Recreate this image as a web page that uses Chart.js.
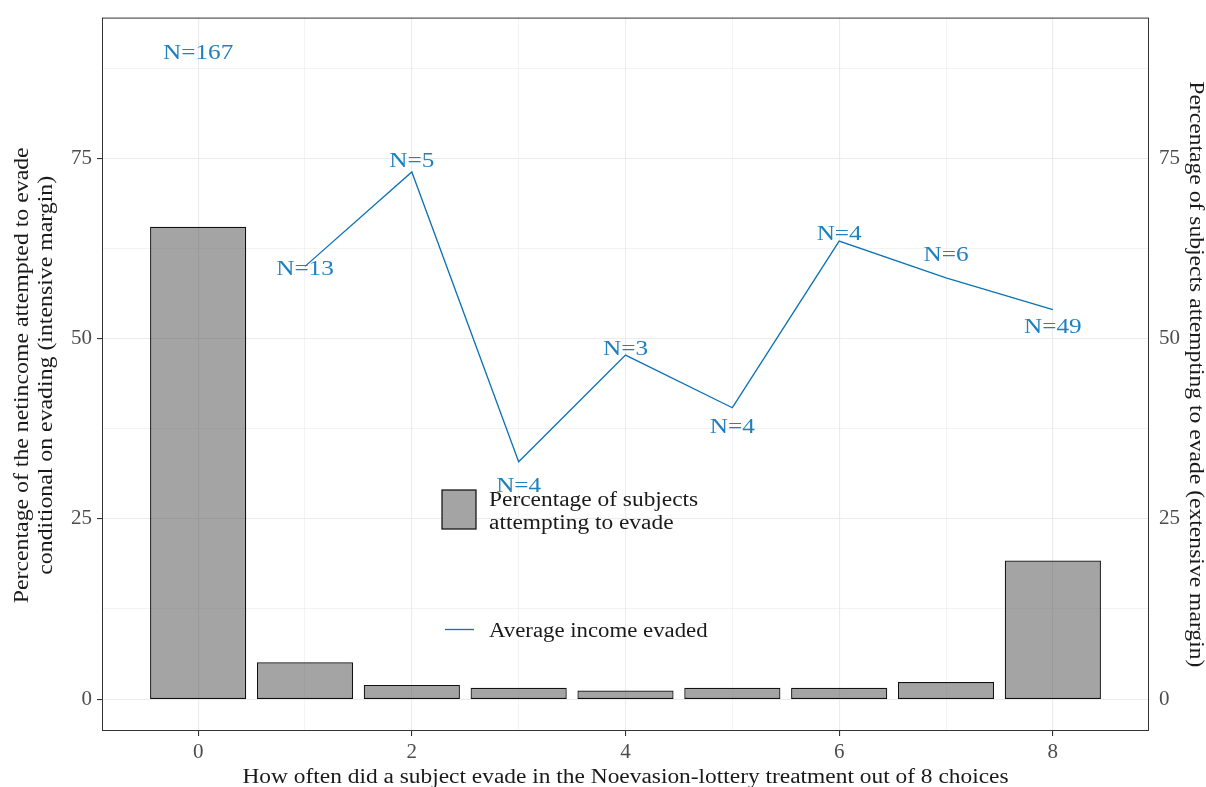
<!DOCTYPE html>
<html>
<head>
<meta charset="utf-8">
<script src="https://cdn.jsdelivr.net/npm/chart.js@4.4.1/dist/chart.umd.min.js"></script>
<style>
  html, body { margin: 0; padding: 0; background: #ffffff; }
  canvas { display: block; }
</style>
</head>
<body>
<canvas id="chart" width="1206" height="787"></canvas>
<script>
// Number of evasions out of 8 choices
const evasionCounts = [0, 1, 2, 3, 4, 5, 6, 7, 8];
// Subjects per group
const groupN = [167, 13, 5, 4, 3, 4, 4, 6, 49];
// Percentage of subjects attempting to evade (extensive margin)
const shareEvading = [65.5, 5.1, 1.96, 1.57, 1.18, 1.57, 1.57, 2.35, 19.2];
// Average share of net income evaded, given evasion (intensive margin)
const lineX = [1, 2, 3, 4, 5, 6, 7, 8];
const incomeEvaded = [60.0, 73.1, 32.9, 47.7, 40.4, 63.5, 58.4, 54.0];
// Axis ticks
const xTickValues = [0, 2, 4, 6, 8];
const yTickValues = [0, 25, 50, 75];

const SERIF = '"Liberation Serif", "DejaVu Serif", serif';
const BLUE_TEXT = '#1f80c0';
const BLUE_LINE = '#0b72b3';
const BAR_FILL = 'rgba(95,95,95,0.57)';
const WIDE = 1.17;   // horizontal stretch for the wide book-style lettering

const xMinor = [0, 1, 2, 3, 4, 5, 6, 7, 8];
const yMinor = [0, 12.5, 25, 37.5, 50, 62.5, 75, 87.5];

function gridColor(ctx) { return '#ebebeb'; }
function gridWidth(majorList) {
  return ctx => (ctx.tick && majorList.includes(ctx.tick.value)) ? 1.1 : 0.6;
}
function tickColor(majorList) {
  return ctx => (ctx.tick && majorList.includes(ctx.tick.value)) ? '#333333' : 'rgba(0,0,0,0)';
}

const yScaleBase = (position) => ({
  type: 'linear',
  position: position,
  min: -4.43,
  max: 94.5,
  afterBuildTicks: s => { s.ticks = yMinor.map(v => ({ value: v })); },
  afterFit: s => { s.width = position === 'left' ? 102 : 57; },
  grid: {
    display: position === 'left',
    color: gridColor,
    lineWidth: gridWidth(yTickValues),
    tickColor: tickColor(yTickValues),
    tickLength: 5,
    drawTicks: true
  },
  border: { display: false },
  ticks: {
    padding: 5,
    color: '#4d4d4d',
    font: { family: SERIF, size: 21 },
    callback: v => yTickValues.includes(v) ? String(v) : ''
  }
});

// draws text stretched horizontally along its own baseline
function wideText(ctx, text, x, y, sx, angle) {
  ctx.save();
  ctx.translate(x, y);
  if (angle) ctx.rotate(angle);
  ctx.scale(sx, 1);
  ctx.fillText(text, 0, 0);
  ctx.restore();
}

// Text labels, legend, axis titles and panel frame
const decorations = {
  id: 'decorations',
  afterDraw(chart, args, opts) {
    const { ctx, chartArea: a, scales } = chart;
    const xs = scales.x, ys = scales.y;
    ctx.save();

    // group sizes
    ctx.fillStyle = BLUE_TEXT;
    ctx.font = '21px ' + SERIF;
    ctx.textAlign = 'center';
    ctx.textBaseline = 'middle';
    evasionCounts.forEach((c, i) => {
      wideText(ctx, 'N=' + groupN[i], xs.getPixelForValue(c), ys.getPixelForValue(opts.labelY[i]) + 1.5, 1.2);
    });

    // panel frame
    ctx.strokeStyle = '#333333';
    ctx.lineWidth = 1;
    ctx.strokeRect(a.left + 0.5, a.top + 0.5, a.right - a.left - 1, a.bottom - a.top - 1);

    // legend
    ctx.fillStyle = '#ffffff';
    ctx.fillRect(442, 490, 34, 39);
    ctx.fillStyle = BAR_FILL;
    ctx.fillRect(442, 490, 34, 39);
    ctx.strokeStyle = '#1a1a1a';
    ctx.lineWidth = 1.3;
    ctx.strokeRect(442, 490, 34, 39);
    ctx.strokeStyle = BLUE_LINE;
    ctx.lineWidth = 1.3;
    ctx.beginPath();
    ctx.moveTo(445, 629.5);
    ctx.lineTo(474, 629.5);
    ctx.stroke();

    ctx.fillStyle = '#1a1a1a';
    ctx.font = '20px ' + SERIF;
    ctx.textAlign = 'left';
    ctx.textBaseline = 'middle';
    wideText(ctx, 'Percentage of subjects', 489, 500.5, WIDE);
    wideText(ctx, 'attempting to evade', 489, 524, WIDE);
    wideText(ctx, 'Average income evaded', 489, 631.5, 1.14);

    // axis titles
    ctx.textAlign = 'center';
    wideText(ctx, 'How often did a subject evade in the Noevasion-lottery treatment out of 8 choices',
      (a.left + a.right) / 2, 777.5, WIDE);

    const cy = (a.top + a.bottom) / 2;
    wideText(ctx, 'Percentage of the netincome attempted to evade', 23, cy + 1, 1.19, -Math.PI / 2);
    wideText(ctx, 'conditional on evading (intensive margin)', 47, cy + 1, 1.19, -Math.PI / 2);
    wideText(ctx, 'Percentage of subjects attempting to evade (extensive margin)', 1195, cy, 1.18, Math.PI / 2);

    ctx.restore();
  }
};

new Chart(document.getElementById('chart'), {
  type: 'bar',
  data: {
    datasets: [
      {
        type: 'line',
        label: 'Average income evaded',
        data: lineX.map((x, i) => ({ x: x, y: incomeEvaded[i] })),
        yAxisID: 'y',
        borderColor: BLUE_LINE,
        borderWidth: 1.3,
        pointRadius: 0,
        tension: 0,
        fill: false,
        order: 0
      },
      {
        type: 'bar',
        label: 'Percentage of subjects attempting to evade',
        data: evasionCounts.map((x, i) => ({ x: x, y: shareEvading[i] })),
        yAxisID: 'y2',
        backgroundColor: BAR_FILL,
        borderColor: '#111111',
        borderWidth: 1.2,
        borderSkipped: false,
        categoryPercentage: 0.9,
        barPercentage: 1.0,
        order: 1
      }
    ]
  },
  options: {
    responsive: false,
    animation: false,
    devicePixelRatio: 1,
    layout: { padding: { left: 0, right: 0, top: 16, bottom: 0 } },
    plugins: {
      legend: { display: false },
      tooltip: { enabled: false },
      decorations: {
        labelY: [89.8, 59.8, 74.7, 29.7, 48.7, 37.8, 64.7, 61.7, 51.7]
      }
    },
    scales: {
      x: {
        type: 'linear',
        min: -0.9,
        max: 8.9,
        offset: false,
        afterBuildTicks: s => { s.ticks = xMinor.map(v => ({ value: v })); },
        afterFit: s => { s.height = 56; },
        grid: {
          color: gridColor,
          lineWidth: gridWidth(xTickValues),
          tickColor: tickColor(xTickValues),
          tickLength: 5,
          offset: false
        },
        border: { display: false },
        ticks: {
          padding: 4,
          color: '#4d4d4d',
          maxRotation: 0,
          autoSkip: false,
          font: { family: SERIF, size: 21 },
          callback: v => xTickValues.includes(v) ? String(v) : ''
        }
      },
      y: yScaleBase('left'),
      y2: yScaleBase('right')
    }
  },
  plugins: [decorations]
});
</script>
</body>
</html>
